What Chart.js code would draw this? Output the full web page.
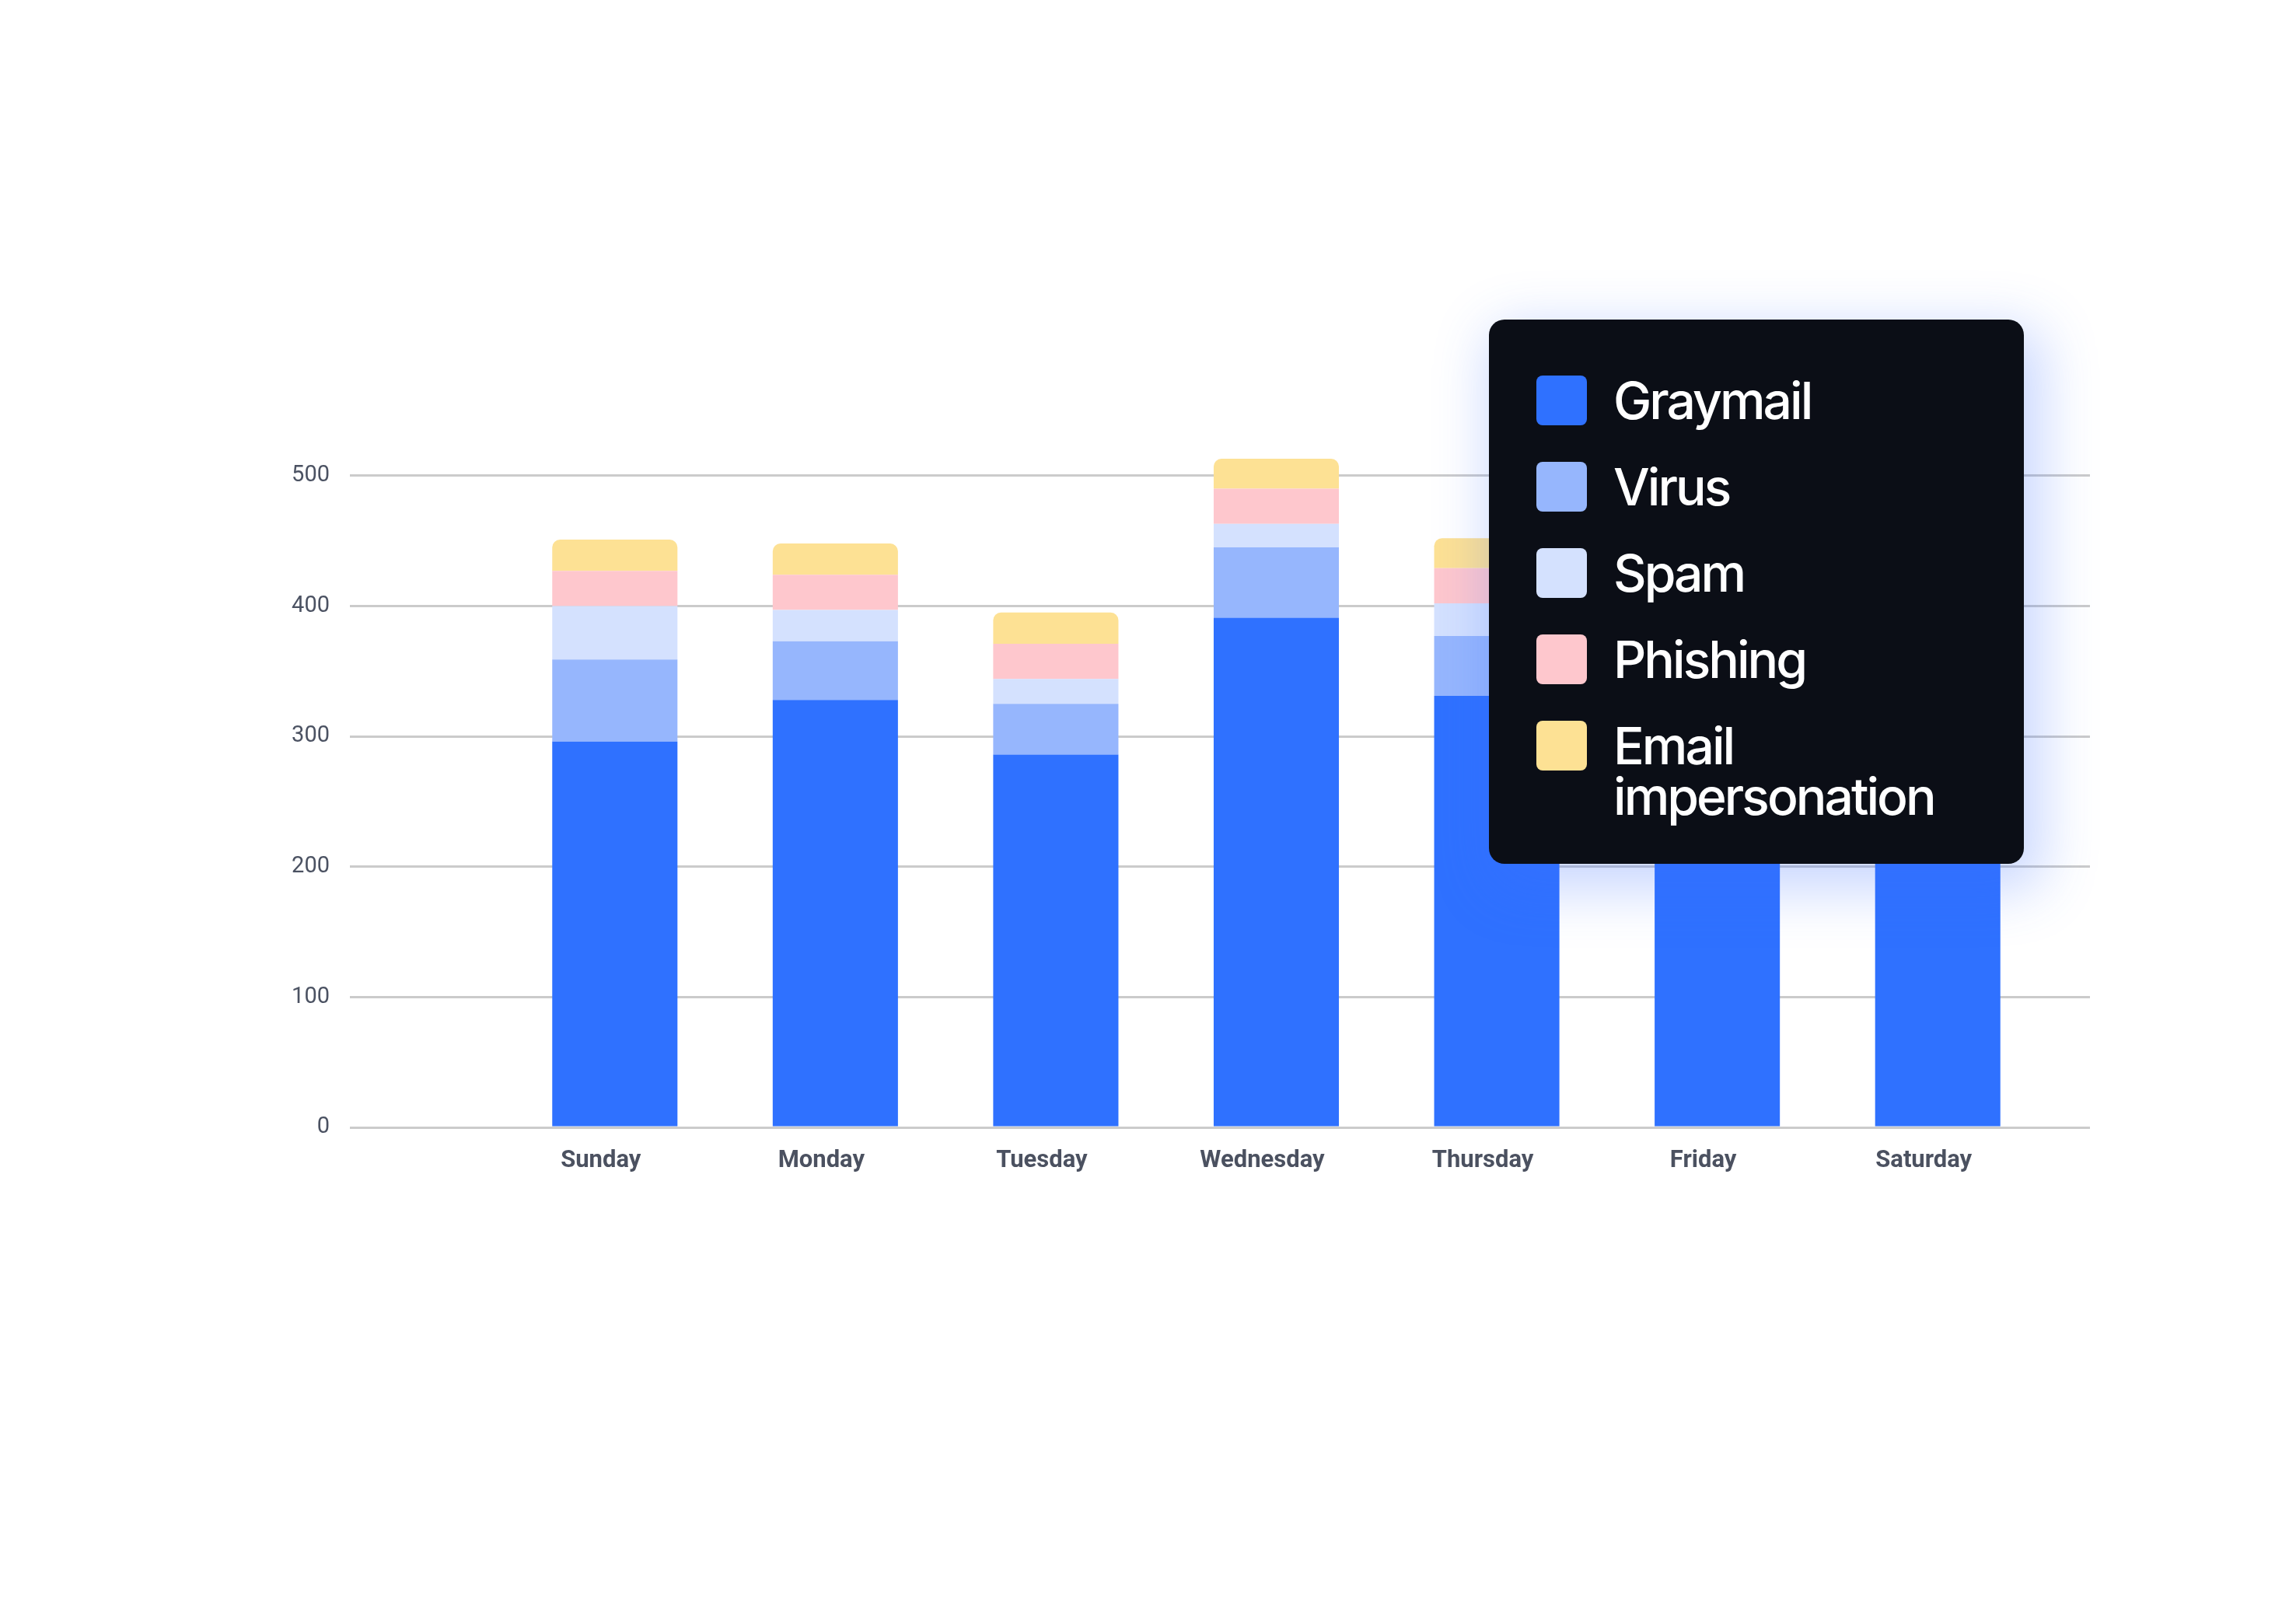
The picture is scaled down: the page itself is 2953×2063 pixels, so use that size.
<!DOCTYPE html>
<html lang="en">
<head>
  <meta charset="UTF-8" />
  <title>Email threats by weekday</title>
  <script src="https://cdn.jsdelivr.net/npm/chart.js"></script>
  <style>
    html, body {
      margin: 0;
      padding: 0;
      background: #ffffff;
    }
    #wrap {
      position: relative;
      width: 2953px;
      height: 2063px;
    }
    #legend {
      position: absolute;
      left: 1915px;
      top: 411px;
      width: 688px;
      height: 700px;
      box-sizing: border-box;
      padding: 72px 0 0 61px;
      background: #0b0e16;
      border-radius: 20px;
      box-shadow: 12px 22px 70px 12px rgba(60, 110, 255, 0.28);
      font-family: Inter, 'Noto Sans', sans-serif;
      font-size: 66px;
      font-weight: 500;
      letter-spacing: -3px;
      color: #ffffff;
    }
    .item {
      display: flex;
      align-items: flex-start;
      margin-bottom: 46px;
    }
    .swatch {
      width: 65px;
      height: 64px;
      border-radius: 8px;
      flex: none;
      margin-right: 34px;
    }
    .label {
      width: 440px;
      line-height: 65px;
    }
  </style>
</head>
<body>
  <div id="wrap">
    <canvas id="chart"></canvas>
    <div id="legend"></div>
  </div>

  <script>
    const days = ["Sunday", "Monday", "Tuesday", "Wednesday", "Thursday", "Friday", "Saturday"];

    // stacked from bottom to top
    const graymail = [296, 328, 286, 391, 331, 340, 320];
    const virus    = [63, 45, 39, 54, 46, 48, 44];
    const spam     = [41, 24, 19, 18, 25, 22, 24];
    const phishing = [27, 27, 27, 27, 27, 26, 28];
    const emailImp = [24, 24, 24, 23, 23, 24, 23];

    const yTicks = [0, 100, 200, 300, 400, 500];

    const gridColor = "#cbcbcb";
    const keepTicks = axis => {
      axis.ticks = yTicks.map(v => ({ value: v }));
    };

    const series = [
      { label: "Graymail", data: graymail, color: "#2f71ff" },
      { label: "Virus", data: virus, color: "#96b6fd" },
      { label: "Spam", data: spam, color: "#d4e1fe" },
      { label: "Phishing", data: phishing, color: "#fec7cd" },
      { label: "Email impersonation", data: emailImp, color: "#fde194" }
    ];

    const chart = new Chart(document.getElementById("chart"), {
      type: "bar",
      data: {
        labels: days,
        datasets: series.map((s, i) => ({
          label: s.label,
          data: s.data,
          backgroundColor: s.color,
          borderWidth: 0,
          borderRadius: i === series.length - 1
            ? { topLeft: 10, topRight: 10, bottomLeft: 0, bottomRight: 0 }
            : 0,
          categoryPercentage: 1,
          barPercentage: 0.568
        }))
      },
      options: {
        responsive: true,
        maintainAspectRatio: false,
        devicePixelRatio: 1,
        animation: false,
        layout: {
          padding: { top: 528, right: 265, bottom: 513, left: 0 }
        },
        plugins: {
          legend: { display: false },
          tooltip: { enabled: false }
        },
        scales: {
          x: {
            stacked: true,
            grid: { display: false },
            border: { display: false },
            ticks: {
              padding: 17,
              labelOffset: -18,
              color: "#4b5160",
              font: { family: "Roboto", size: 31, weight: "bold" }
            },
            afterFit: s => { s.height = 100; }
          },
          y: {
            stacked: true,
            min: 0,
            max: 550,
            afterBuildTicks: keepTicks,
            grid: { color: gridColor, lineWidth: 3, tickLength: 199 },
            border: { display: false },
            ticks: {
              padding: 26,
              color: "#4b5262",
              font: { family: "Roboto", size: 29 }
            },
            afterFit: s => { s.width = 649; }
          },
          y2: {
            position: "right",
            min: 0,
            max: 550,
            afterBuildTicks: keepTicks,
            grid: { color: gridColor, lineWidth: 3, tickLength: 54, drawOnChartArea: false },
            border: { display: false },
            ticks: { display: false },
            afterFit: s => { s.width = 54; }
          }
        }
      }
    });

    // html legend built from the datasets
    const legend = document.getElementById("legend");
    chart.data.datasets.forEach(ds => {
      const row = document.createElement("div");
      row.className = "item";
      row.innerHTML = `<span class="swatch" style="background:${ds.backgroundColor}"></span>
        <span class="label">${ds.label}</span>`;
      legend.appendChild(row);
    });
  </script>
</body>
</html>
